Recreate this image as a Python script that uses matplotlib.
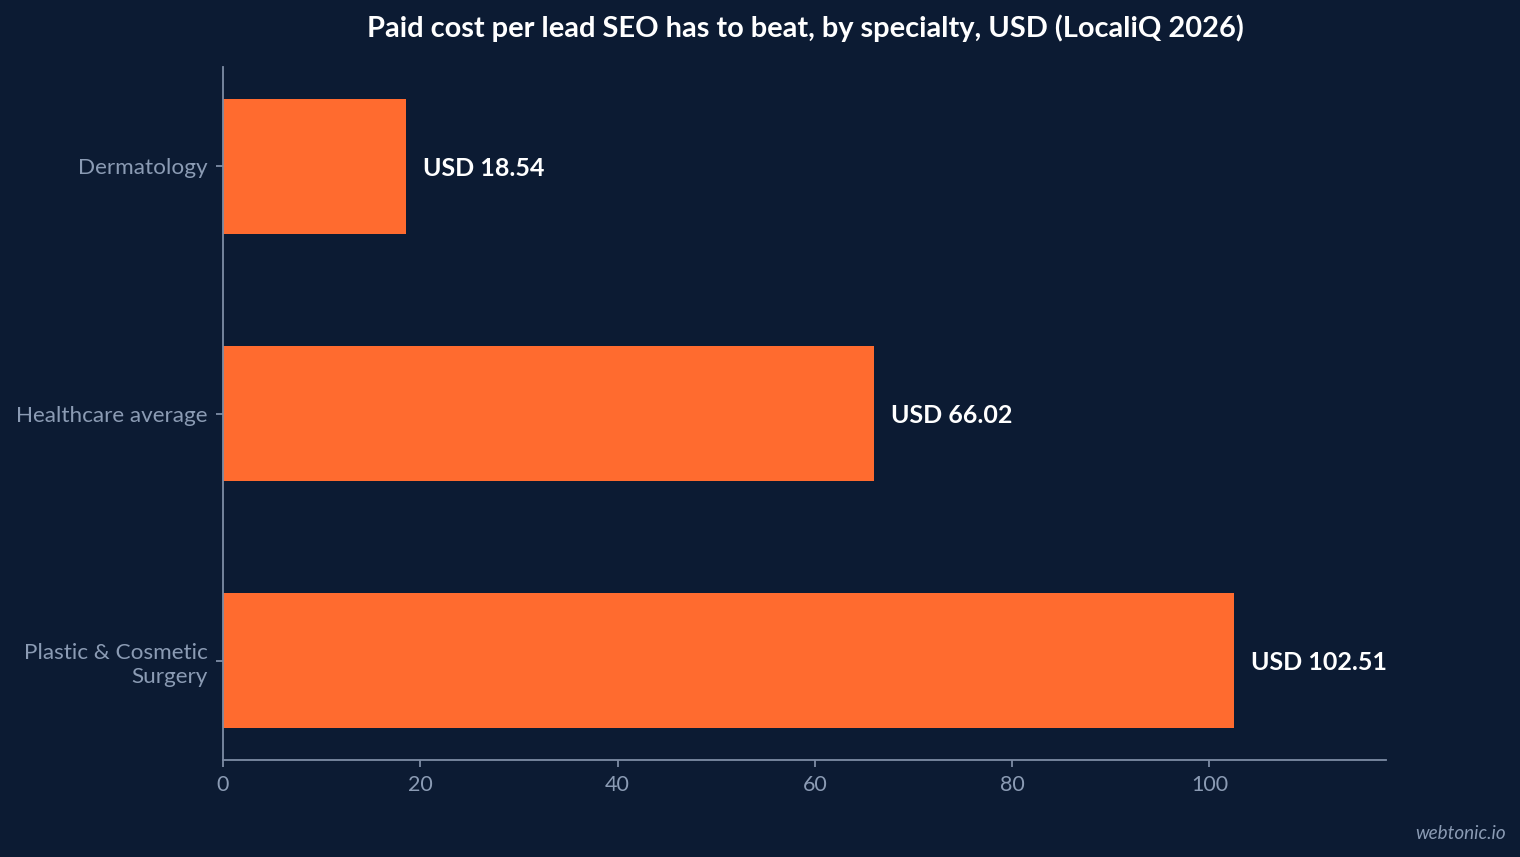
import matplotlib
matplotlib.use("Agg")
import matplotlib.pyplot as plt
from matplotlib.transforms import ScaledTranslation

categories = ["Dermatology", "Healthcare average", "Plastic & Cosmetic\nSurgery"]
values = [18.54, 66.02, 102.51]
value_labels = ["USD 18.54", "USD 66.02", "USD 102.51"]
xticks = [0, 20, 40, 60, 80, 100]

BG = "#0c1b33"
BAR = "#ff6b2f"
TICK = "#8b9bb4"
AXIS = "#7d8ca5"

plt.rcParams['font.family'] = ['Lato', 'DejaVu Sans']

fig = plt.figure(figsize=(15.2, 8.57), dpi=100, facecolor=BG)
ax = fig.add_axes([0.1467, 0.1132, 0.7651, 0.8086], facecolor=BG)

y = list(range(len(categories)))
ax.barh(y, values, height=0.55, color=BAR)
ax.invert_yaxis()
ax.set_xlim(0, max(values) * 1.15)
ax.set_yticks(y)
ax.set_yticklabels(categories, fontsize=16.2, color=TICK, linespacing=1.3)
ax.set_xticks(xticks)
ax.set_xticklabels([str(t) for t in xticks], fontsize=15.5, color=TICK)

shift = ScaledTranslation(0, -3 / 100, fig.dpi_scale_trans)
for lbl in ax.get_yticklabels():
    lbl.set_transform(lbl.get_transform() + shift)

for yi, v, lab in zip(y, values, value_labels):
    ax.annotate(lab, (v, yi), xytext=(17, -2), textcoords="offset pixels",
                va="center", ha="left", fontsize=18, fontweight="bold", color="white")

for s in ["top", "right"]:
    ax.spines[s].set_visible(False)
for s in ["left", "bottom"]:
    ax.spines[s].set_color(AXIS)
    ax.spines[s].set_linewidth(1.3)
ax.tick_params(axis="both", colors=AXIS, length=5, width=1.3)
ax.tick_params(axis="x", labelcolor=TICK, pad=6)
ax.tick_params(axis="y", labelcolor=TICK, pad=6)

fig.text(0.5297, 0.967, "Paid cost per lead SEO has to beat, by specialty, USD (LocaliQ 2026)",
         ha="center", va="center", fontsize=20.9, fontweight="bold", color="white")
fig.text(0.9905, 0.027, "webtonic.io", ha="right", va="center", fontsize=13.6,
         fontstyle="italic", color=TICK)

fig.savefig("out.png", dpi=100, facecolor=BG)
